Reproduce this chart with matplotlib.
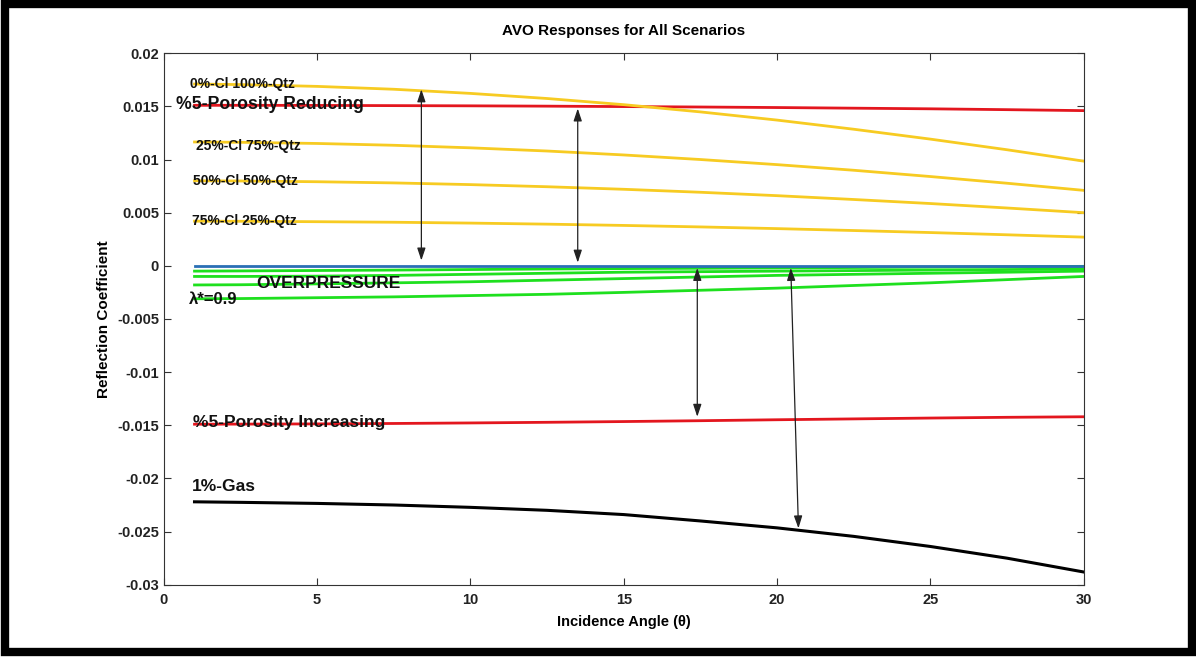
import matplotlib
matplotlib.use('Agg')
import matplotlib.pyplot as plt
from matplotlib.patches import Rectangle

plt.rcParams['font.family'] = ['Liberation Sans', 'DejaVu Sans']
plt.rcParams['font.weight'] = 'bold'

# incidence angles (degrees) at which the curves were sampled
angles = [1, 2.5, 5, 7.5, 10, 12.5, 15, 17.5, 20, 22.5, 25, 27.5, 30]

qtz100 = [0.0171, 0.01705, 0.01688, 0.01661, 0.01622, 0.01574, 0.01516,
          0.01448, 0.01371, 0.01285, 0.01192, 0.01092, 0.00985]
qtz75 = [0.01165, 0.01162, 0.01151, 0.01134, 0.0111, 0.0108, 0.01043,
         0.01, 0.00952, 0.00899, 0.0084, 0.00777, 0.0071]
qtz50 = [0.008, 0.00798, 0.00791, 0.0078, 0.00764, 0.00744, 0.0072,
         0.00692, 0.0066, 0.00624, 0.00586, 0.00544, 0.005]
qtz25 = [0.0042, 0.00419, 0.00415, 0.0041, 0.00402, 0.00392, 0.0038,
         0.00366, 0.0035, 0.00332, 0.00313, 0.00292, 0.0027]

por_reducing = [0.0151, 0.0151, 0.01509, 0.01507, 0.01505, 0.01502, 0.01498,
                0.01494, 0.01489, 0.01483, 0.01477, 0.01469, 0.0146]
por_increasing = [-0.0149, -0.01489, -0.01487, -0.01483, -0.01478, -0.01472, -0.01465,
                  -0.01457, -0.01448, -0.0144, -0.01432, -0.01425, -0.0142]

brine = [0] * len(angles)
overpressure = [
    [-0.0005, -0.00048, -0.00044, -0.0004, -0.00035, -0.0003, -0.00026,
     -0.00023, -0.0002, -0.00016, -0.00012, -0.00008, -0.00005],
    [-0.001, -0.001, -0.00097, -0.0009, -0.0008, -0.0007, -0.0006,
     -0.00055, -0.0005, -0.00045, -0.0004, -0.00035, -0.0003],
    [-0.0018, -0.00178, -0.0017, -0.0016, -0.0015, -0.00135, -0.0012,
     -0.00105, -0.0009, -0.0008, -0.0007, -0.0006, -0.0005],
    [-0.0031, -0.00308, -0.003, -0.00292, -0.0028, -0.00268, -0.0025,
     -0.0023, -0.0021, -0.00185, -0.0016, -0.0013, -0.001],
]

gas = [-0.0222, -0.02225, -0.02235, -0.0225, -0.02272, -0.023, -0.0234,
       -0.024, -0.02465, -0.02545, -0.0264, -0.0275, -0.0288]

yellow = '#F7CB22'
red = '#E3161E'
green = '#1EE01E'
blue = '#2A6FB5'

fig = plt.figure(figsize=(11.96, 6.57), dpi=100)
ax = fig.add_axes([0.137, 0.110, 0.769, 0.809])

for g in overpressure:
    ax.plot(angles, g, color=green, lw=2)
ax.plot(angles, brine, color=blue, lw=2)
ax.plot(angles, por_reducing, color=red, lw=2)
ax.plot(angles, por_increasing, color=red, lw=2)
for q in (qtz100, qtz75, qtz50, qtz25):
    ax.plot(angles, q, color=yellow, lw=2)
ax.plot(angles, gas, color='black', lw=2.2)

# double headed arrows between scenario groups
arrows = [((8.4, 0.0166), (8.4, 0.0005)),
          ((13.5, 0.0148), (13.5, 0.0003)),
          ((17.4, -0.0002), (17.4, -0.0142)),
          ((20.45, -0.0002), (20.7, -0.0247))]
for a, b in arrows:
    ax.annotate('', xy=b, xytext=a,
                arrowprops=dict(arrowstyle='<|-|>,head_length=0.75,head_width=0.25',
                                color='#222222', lw=0.9, shrinkA=0, shrinkB=0))

labels = [
    (0.85, 0.0171, '0%-Cl 100%-Qtz', 10),
    (0.39, 0.0152, '%5-Porosity Reducing', 12.7),
    (1.04, 0.0113, '25%-Cl 75%-Qtz', 10),
    (0.95, 0.0080, '50%-Cl 50%-Qtz', 10),
    (0.91, 0.0042, '75%-Cl 25%-Qtz', 10),
    (3.0, -0.00165, 'OVERPRESSURE', 12.5),
    (0.82, -0.00315, 'λ*=0.9', 12),
    (0.95, -0.0147, '%5-Porosity Increasing', 12.5),
    (0.91, -0.0208, '1%-Gas', 12.5),
]
for x, y, s, fs in labels:
    ax.text(x, y, s, fontsize=fs, fontweight='bold', va='center', ha='left', color='#111111')

ax.set_xlim(0, 30)
ax.set_ylim(-0.03, 0.02)
ax.set_xticks([0, 5, 10, 15, 20, 25, 30])
ax.set_yticks([-0.03, -0.025, -0.02, -0.015, -0.01, -0.005, 0, 0.005, 0.01, 0.015, 0.02])
ax.set_yticklabels(['-0.03', '-0.025', '-0.02', '-0.015', '-0.01', '-0.005', '0',
                    '0.005', '0.01', '0.015', '0.02'])
ax.tick_params(direction='in', top=True, right=True, labelsize=10.5, length=5,
               width=0.8, color='#333333', labelcolor='#222222')
ax.tick_params(axis='x', pad=6)
for sp in ax.spines.values():
    sp.set_color('#333333')
    sp.set_linewidth(0.8)

ax.set_title('AVO Responses for All Scenarios', fontsize=11, fontweight='bold', pad=13)
ax.set_xlabel('Incidence Angle (θ)', fontsize=10.5, fontweight='bold', labelpad=6)
ax.set_ylabel('Reflection Coefficient', fontsize=11, fontweight='bold')

# outer frame around the whole figure
fig.patches.append(Rectangle((0.004, 0.008), 0.993, 0.986, transform=fig.transFigure,
                             fill=False, edgecolor='black', lw=6))

fig.savefig('out.png', dpi=100)
